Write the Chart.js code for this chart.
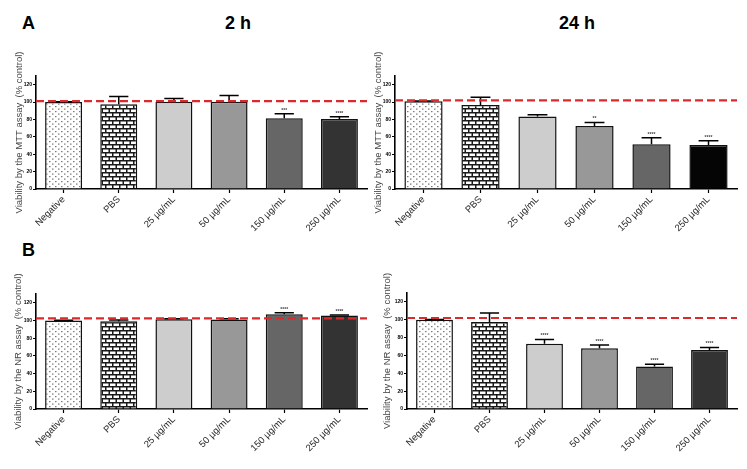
<!DOCTYPE html>
<html>
<head>
<meta charset="utf-8">
<script src="https://cdn.jsdelivr.net/npm/chart.js@4"></script>
<style>
  body { margin: 0; background: #fff; width: 747px; height: 469px; position: relative; overflow: hidden;
         font-family: "Liberation Sans", Arial, sans-serif; }
  canvas { position: absolute; }
  .lbl { position: absolute; font-weight: bold; font-size: 18px; line-height: 18px; color: #000; white-space: nowrap; }
</style>
</head>
<body>
<div class="lbl" style="left:22px;top:14px">A</div>
<div class="lbl" style="left:188px;top:14px;width:100px;text-align:center">2 h</div>
<div class="lbl" style="left:527px;top:14px;width:100px;text-align:center">24 h</div>
<div class="lbl" style="left:22px;top:241px">B</div>

<canvas id="mtt2h" width="372" height="200" style="left:0;top:40px"></canvas>
<canvas id="mtt24h" width="377" height="200" style="left:370px;top:40px"></canvas>
<canvas id="nr2h" width="372" height="210" style="left:0;top:250px"></canvas>
<canvas id="nr24h" width="377" height="210" style="left:370px;top:250px"></canvas>

<script>
const categories = ['Negative', 'PBS', '25 µg/mL', '50 µg/mL', '150 µg/mL', '250 µg/mL'];

// MTT assay, 2 h
const mtt2hMean  = [100, 97.5, 100.5, 100.5, 81.5, 80.5];
const mtt2hErr   = [0.5, 9, 3.5, 7, 5, 2.5];
const mtt2hStars = ['', '', '', '', '***', '****'];

// MTT assay, 24 h
const mtt24hMean  = [101, 96.5, 83.5, 72.5, 51.5, 50.5];
const mtt24hErr   = [0.3, 9, 2, 4, 7.5, 5];
const mtt24hStars = ['', '', '', '**', '****', '****'];

// NR assay, 2 h
const nr2hMean  = [100, 99.3, 101.5, 101.3, 107.2, 105.6];
const nr2hErr   = [0.4, 1.2, 0.6, 0.6, 1.5, 0.8];
const nr2hStars = ['', '', '', '', '****', '****'];

// NR assay, 24 h
const nr24hMean  = [100, 97.5, 73, 68, 47.5, 66];
const nr24hErr   = [0.3, 10, 5, 3.7, 2.6, 3];
const nr24hStars = ['', '', '****', '****', '****', '****'];

// red dashed control line, per panel
const refLines = [101, 102, 102.5, 102];

const yTicks = [0, 20, 40, 60, 80, 100, 120];

// fill patterns for the two control bars
function dotPattern() {
  const c = document.createElement('canvas');
  c.width = 6; c.height = 5;
  const g = c.getContext('2d');
  g.fillStyle = '#fff'; g.fillRect(0, 0, 6, 5);
  g.fillStyle = '#7a7a7a';
  g.fillRect(1, 1, 1.5, 1.2);
  g.fillRect(4, 3.5, 1.5, 1.2);
  return g.createPattern(c, 'repeat');
}
function brickPattern() {
  const c = document.createElement('canvas');
  c.width = 7; c.height = 8;
  const g = c.getContext('2d');
  g.fillStyle = '#fff'; g.fillRect(0, 0, 7, 8);
  g.fillStyle = '#1a1a1a';
  g.fillRect(0, 0, 7, 1.5);
  g.fillRect(0, 4, 7, 1.5);
  g.fillRect(0, 0, 1.5, 4);
  g.fillRect(3.5, 4, 1.5, 4);
  return g.createPattern(c, 'repeat');
}
const dots = dotPattern();
const bricks = brickPattern();

const extras = {
  id: 'extras',
  afterDatasetsDraw(chart, args, opts) {
    const { ctx, chartArea, scales: { y } } = chart;
    const meta = chart.getDatasetMeta(0);
    ctx.save();
    meta.data.forEach((bar, i) => {
      const top = y.getPixelForValue(opts.mean[i] + opts.err[i]);
      const half = bar.width * 0.26;
      ctx.strokeStyle = '#000';
      ctx.lineWidth = 1.5;
      ctx.beginPath();
      ctx.moveTo(bar.x, bar.y);
      ctx.lineTo(bar.x, top);
      ctx.moveTo(bar.x - half, top);
      ctx.lineTo(bar.x + half, top);
      ctx.stroke();
      if (opts.stars[i]) {
        ctx.fillStyle = '#444';
        ctx.font = 'bold 5px "Liberation Sans", Arial, sans-serif';
        ctx.textAlign = 'center';
        ctx.textBaseline = 'bottom';
        ctx.fillText(opts.stars[i], bar.x, top - 1);
      }
    });
    const ry = y.getPixelForValue(opts.ref);
    ctx.strokeStyle = '#dc2a2c';
    ctx.lineWidth = 2.2;
    ctx.setLineDash([8, 4]);
    ctx.beginPath();
    ctx.moveTo(chartArea.left, ry);
    ctx.lineTo(chartArea.right, ry);
    ctx.stroke();
    ctx.restore();
  }
};

function panel(id, mean, err, stars, colors, ref, title, geo) {
  new Chart(document.getElementById(id), {
    type: 'bar',
    data: {
      labels: categories,
      datasets: [{
        data: mean,
        backgroundColor: colors,
        borderColor: '#111',
        borderWidth: 1.5,
        barPercentage: 0.67,
        categoryPercentage: 1
      }]
    },
    options: {
      responsive: false,
      animation: false,
      devicePixelRatio: 1,
      layout: { padding: { top: geo.padTop, right: geo.padRight, left: 0, bottom: 0 } },
      plugins: {
        legend: { display: false },
        tooltip: { enabled: false },
        extras: { mean: mean, err: err, stars: stars, ref: ref }
      },
      scales: {
        x: {
          grid: { drawOnChartArea: false, offset: false, color: '#000', tickLength: 4, tickWidth: 1.2 },
          border: { color: '#000', width: 1.6 },
          ticks: {
            color: '#2a2a2a', maxRotation: 45, minRotation: 45, autoSkip: false, padding: 1,
            font: { family: '"Liberation Sans", Arial, sans-serif', size: 9.5 }
          },
          afterFit: (s) => { s.height = geo.xHeight; }
        },
        y: {
          min: 0, max: 130,
          grid: { drawOnChartArea: false, color: '#000', tickLength: 3, tickWidth: 1.2 },
          border: { color: '#000', width: 1.6 },
          ticks: {
            stepSize: 10, padding: 1, color: '#000',
            font: { family: '"Liberation Sans", Arial, sans-serif', size: 5, weight: 'bold' },
            callback: (v) => (yTicks.includes(v) ? v : '')
          },
          title: {
            display: true, text: title, color: '#444',
            padding: { top: geo.titlePad, bottom: 0 },
            font: { family: '"Liberation Sans", Arial, sans-serif', size: 9.5 }
          },
          afterFit: (s) => { s.width = geo.yWidth; }
        }
      }
    },
    plugins: [extras]
  });
}

const greys2h = [dots, bricks, '#cdcdcd', '#989898', '#666666', '#333333'];
const greys24h = [dots, bricks, '#cdcdcd', '#989898', '#666666', '#050505'];
const greysNr24h = [dots, bricks, '#cdcdcd', '#989898', '#666666', '#333333'];

panel('mtt2h', mtt2hMean, mtt2hErr, mtt2hStars, greys2h, refLines[0],
  'Viability by the MTT assay  (% control)',
  { yWidth: 36, xHeight: 51, padTop: 36, padRight: 5, titlePad: 14 });
panel('mtt24h', mtt24hMean, mtt24hErr, mtt24hStars, greys24h, refLines[1],
  'Viability by the MTT assay  (% control)',
  { yWidth: 25, xHeight: 51, padTop: 36, padRight: 10, titlePad: 2.5 });
panel('nr2h', nr2hMean, nr2hErr, nr2hStars, greys2h, refLines[2],
  'Viability by the NR assay  (% control)',
  { yWidth: 36, xHeight: 51, padTop: 44, padRight: 5, titlePad: 13 });
panel('nr24h', nr24hMean, nr24hErr, nr24hStars, greysNr24h, refLines[3],
  'Viability by the NR assay  (% control)',
  { yWidth: 37, xHeight: 51, padTop: 43, padRight: 10, titlePad: 12 });
</script>
</body>
</html>
